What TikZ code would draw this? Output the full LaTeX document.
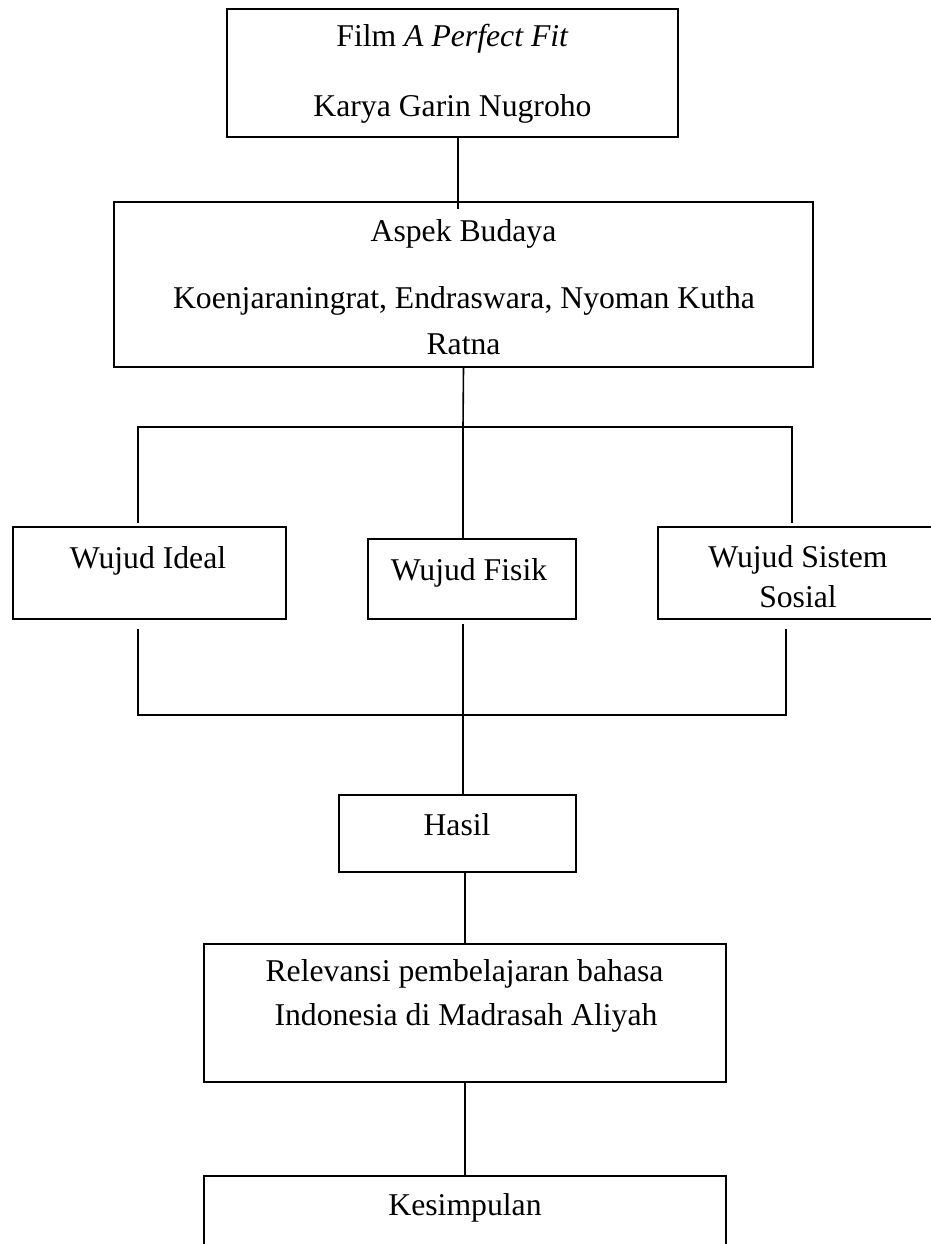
\documentclass[tikz,border=0pt]{standalone}
\usepackage{fontspec}
\setmainfont{Liberation Serif}
\newcommand{\lw}{1.6pt}
\newcommand{\txtsize}{31.7}
\tikzset{
    box/.style={draw, line width=\lw, inner sep=0pt},
    lbl/.style={anchor=base, inner sep=0pt, font=\fontsize{\txtsize}{38}\selectfont},
    link/.style={line width=\lw}
}

\begin{document}
\begin{tikzpicture}[x=1pt, y=-1pt]
    \useasboundingbox (0, 0) rectangle (930, 1244);

    % boxes
    \node [box, minimum width=451pt, minimum height=128pt] (film) at (452.5, 73) {};
    \node [box, minimum width=699pt, minimum height=165pt] (aspek) at (463.5, 284.5) {};
    \node [box, minimum width=273pt, minimum height=92pt] (ideal) at (149.5, 573) {};
    \node [box, minimum width=208pt, minimum height=80pt] (fisik) at (472, 579) {};
    \node [box, minimum width=280pt, minimum height=92pt] (sosial) at (798, 573) {};
    \node [box, minimum width=237pt, minimum height=77pt] (hasil) at (457.5, 833.5) {};
    \node [box, minimum width=522pt, minimum height=138pt] (relevansi) at (465, 1013) {};
    \node [box, minimum width=522pt, minimum height=84pt] (simpul) at (465, 1218) {};

    % junctions
    \coordinate (split) at (463, 427);
    \coordinate (splitL) at (138, 427);
    \coordinate (splitR) at (792, 427);
    \coordinate (inL) at (138, 523);
    \coordinate (inR) at (792, 523);
    \coordinate (outL) at (138, 629);
    \coordinate (outM) at (463, 624);
    \coordinate (outR) at (786, 629);
    \coordinate (merge) at (463, 715);
    \coordinate (mergeL) at (138, 715);
    \coordinate (mergeR) at (786, 715);

    % lines
    \draw [link] ([xshift=5.5pt]film.south) -- ([xshift=-5.5pt, yshift=-8pt]aspek.north);
    \draw [link] (aspek.south) -- (split);
    \draw [link] (inL) -- (splitL) -- (splitR) -- (inR);
    \draw [link] (split) -- (split |- fisik.north);
    \draw [link] (outL) -- (mergeL) -- (mergeR) -- (outR);
    \draw [link] (outM) -- (outM |- hasil.north);
    \draw [link] (relevansi.north |- hasil.south) -- (relevansi.north);
    \draw [link] (relevansi.south) -- (simpul.north);

    % labels
    \node [lbl] (filmA) at (452.5, 47) {Film \textit{A Perfect Fit}};
    \node [lbl] (filmB) at (452.5, 117) {Karya Garin Nugroho};
    \node [lbl] (aspekA) at (463.5, 241) {Aspek Budaya};
    \node [lbl] (aspekB) at (464, 308) {Koenjaraningrat, Endraswara, Nyoman Kutha};
    \node [lbl] (aspekC) at (463.5, 354) {Ratna};
    \node [lbl] (idealA) at (148, 568) {Wujud Ideal};
    \node [lbl] (fisikA) at (469, 580) {Wujud Fisik};
    \node [lbl] (sosialA) at (798, 567) {Wujud Sistem};
    \node [lbl] (sosialB) at (798, 607) {Sosial};
    \node [lbl] (hasilA) at (457, 835) {Hasil};
    \node [lbl] (relevansiA) at (464.5, 981) {Relevansi pembelajaran bahasa};
    \node [lbl] (relevansiB) at (466, 1025) {Indonesia di Madrasah Aliyah};
    \node [lbl] (simpulA) at (465, 1215) {Kesimpulan};
\end{tikzpicture}
\end{document}
